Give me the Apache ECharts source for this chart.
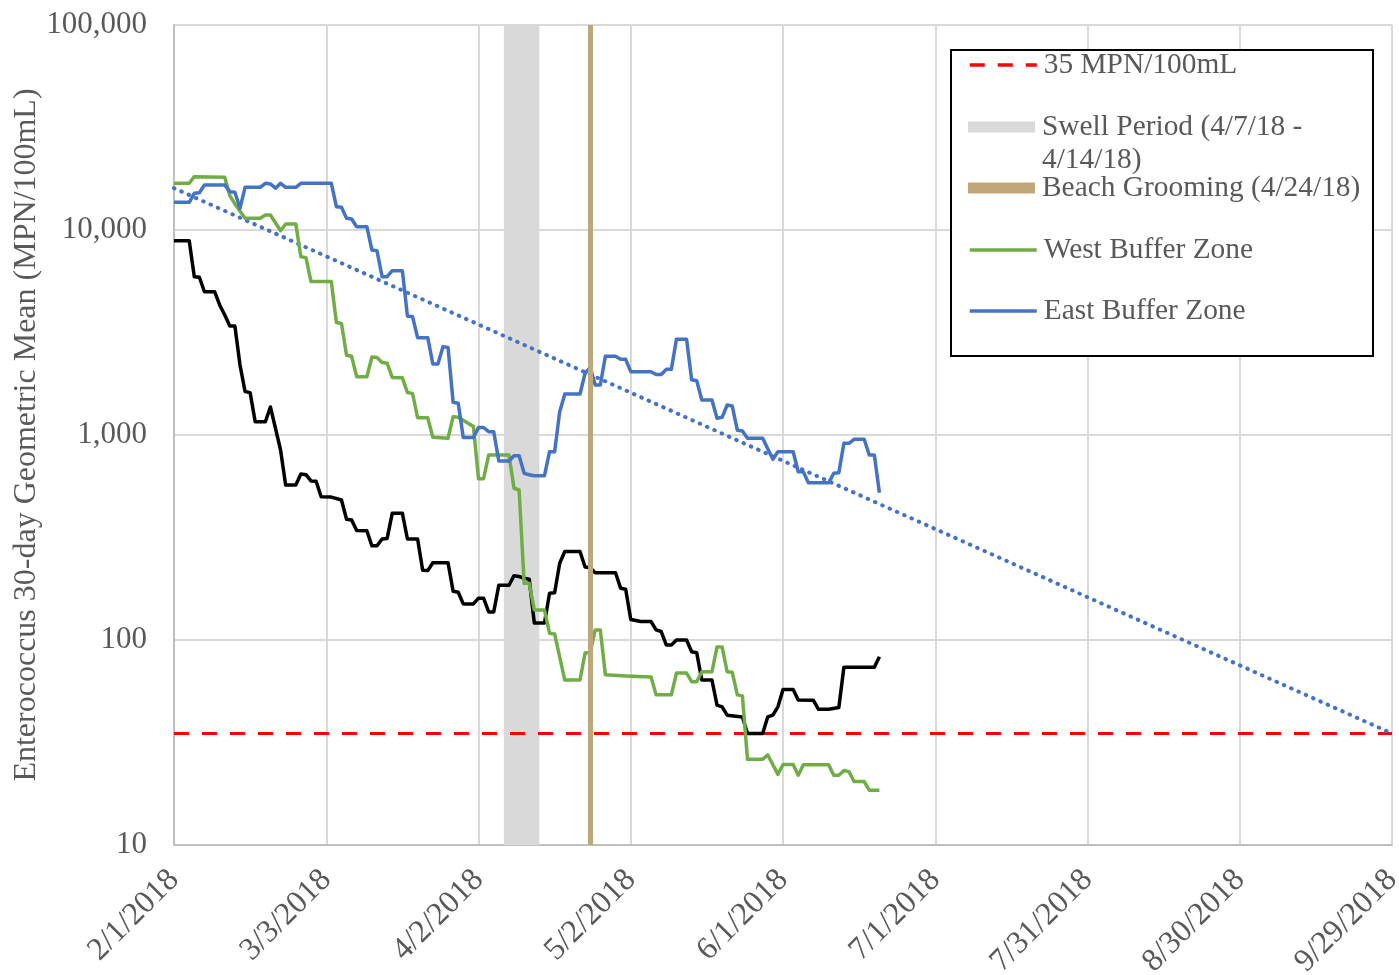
<!DOCTYPE html>
<html>
<head>
<meta charset="utf-8">
<script src="https://cdn.jsdelivr.net/npm/echarts@6/dist/echarts.min.js"></script>
<style>
  html, body { margin: 0; padding: 0; background: #fff; }
  #chart { width: 1399px; height: 975px; }
</style>
</head>
<body>
<div id="chart"></div>
<script>
// axis range and tick labels
const startDate = '2018-02-01'
const endDate = '2018-09-29'
const xTickLabels = ['2/1/2018', '3/3/2018', '4/2/2018', '5/2/2018', '6/1/2018', '7/1/2018', '7/31/2018', '8/30/2018', '9/29/2018']
const yTickLabels = ['10', '100', '1,000', '10,000', '100,000']

// events
const thresholdValue = 35
const swellPeriod = ['2018-04-07', '2018-04-14']
const groomingDate = '2018-04-24'

// 30-day geometric means, [date, MPN/100mL]
const mainZone = [
  ['2018-02-01', 8870], ['2018-02-04', 8870], ['2018-02-05', 5920], ['2018-02-06', 5880], ['2018-02-07', 5000],
  ['2018-02-09', 5000], ['2018-02-10', 4310], ['2018-02-11', 3850], ['2018-02-12', 3400], ['2018-02-13', 3400],
  ['2018-02-14', 2200], ['2018-02-15', 1630], ['2018-02-16', 1610], ['2018-02-17', 1160], ['2018-02-19', 1160],
  ['2018-02-20', 1370], ['2018-02-22', 845], ['2018-02-23', 570], ['2018-02-25', 570], ['2018-02-26', 645],
  ['2018-02-27', 640], ['2018-02-28', 597], ['2018-03-01', 595], ['2018-03-02', 500], ['2018-03-04', 498],
  ['2018-03-06', 482], ['2018-03-07', 388], ['2018-03-08', 385], ['2018-03-09', 342], ['2018-03-11', 341],
  ['2018-03-12', 288], ['2018-03-13', 288], ['2018-03-14', 311], ['2018-03-15', 313], ['2018-03-16', 415],
  ['2018-03-18', 415], ['2018-03-19', 311], ['2018-03-21', 311], ['2018-03-22', 219], ['2018-03-23', 218],
  ['2018-03-24', 238], ['2018-03-27', 238], ['2018-03-28', 173], ['2018-03-29', 171], ['2018-03-30', 150],
  ['2018-04-01', 150], ['2018-04-02', 160], ['2018-04-03', 160], ['2018-04-04', 137], ['2018-04-05', 137],
  ['2018-04-06', 185], ['2018-04-08', 185], ['2018-04-09', 206], ['2018-04-10', 204], ['2018-04-11', 200],
  ['2018-04-12', 198], ['2018-04-13', 121], ['2018-04-15', 121], ['2018-04-16', 169], ['2018-04-17', 170],
  ['2018-04-18', 237], ['2018-04-19', 270], ['2018-04-22', 270], ['2018-04-23', 227], ['2018-04-24', 225],
  ['2018-04-25', 213], ['2018-04-29', 213], ['2018-04-30', 179], ['2018-05-01', 177], ['2018-05-02', 126],
  ['2018-05-04', 123], ['2018-05-06', 123], ['2018-05-07', 112], ['2018-05-08', 110], ['2018-05-09', 94.6],
  ['2018-05-10', 94.6], ['2018-05-11', 100], ['2018-05-13', 100], ['2018-05-14', 87.6], ['2018-05-15', 86.6],
  ['2018-05-16', 63.8], ['2018-05-18', 63.8], ['2018-05-19', 48.1], ['2018-05-20', 47.2], ['2018-05-21', 43],
  ['2018-05-24', 42.1], ['2018-05-25', 35], ['2018-05-28', 35], ['2018-05-29', 42.2], ['2018-05-30', 43],
  ['2018-05-31', 47.2], ['2018-06-01', 57.4], ['2018-06-03', 57.4], ['2018-06-04', 51], ['2018-06-07', 50.8],
  ['2018-06-08', 45.9], ['2018-06-10', 45.9], ['2018-06-12', 46.9], ['2018-06-13', 73.6], ['2018-06-19', 73.6],
  ['2018-06-20', 82.9]
]

const westBuffer = [
  ['2018-02-01', 16900], ['2018-02-04', 16900], ['2018-02-05', 18200], ['2018-02-11', 18100], ['2018-02-12', 14700],
  ['2018-02-13', 13400], ['2018-02-15', 11400], ['2018-02-18', 11400], ['2018-02-19', 11830], ['2018-02-20', 11830],
  ['2018-02-22', 9920], ['2018-02-23', 10690], ['2018-02-25', 10690], ['2018-02-26', 7410], ['2018-02-27', 7330],
  ['2018-02-28', 5600], ['2018-03-04', 5600], ['2018-03-05', 3540], ['2018-03-06', 3500], ['2018-03-07', 2450],
  ['2018-03-08', 2420], ['2018-03-09', 1925], ['2018-03-11', 1925], ['2018-03-12', 2400], ['2018-03-13', 2390],
  ['2018-03-14', 2260], ['2018-03-15', 2240], ['2018-03-16', 1910], ['2018-03-18', 1900], ['2018-03-19', 1610],
  ['2018-03-20', 1595], ['2018-03-21', 1214], ['2018-03-23', 1214], ['2018-03-24', 975], ['2018-03-27', 964],
  ['2018-03-28', 1228], ['2018-03-29', 1220], ['2018-04-01', 1100], ['2018-04-02', 612], ['2018-04-03', 612],
  ['2018-04-04', 798], ['2018-04-08', 798], ['2018-04-09', 550], ['2018-04-10', 539], ['2018-04-11', 189],
  ['2018-04-12', 189], ['2018-04-13', 140], ['2018-04-15', 140], ['2018-04-16', 108], ['2018-04-17', 107],
  ['2018-04-19', 63.8], ['2018-04-22', 63.8], ['2018-04-23', 86.4], ['2018-04-24', 87], ['2018-04-25', 112],
  ['2018-04-26', 112], ['2018-04-27', 67.6], ['2018-05-01', 66.7], ['2018-05-06', 66], ['2018-05-07', 54],
  ['2018-05-10', 54], ['2018-05-11', 69], ['2018-05-13', 69], ['2018-05-14', 62.6], ['2018-05-15', 62.6],
  ['2018-05-16', 70], ['2018-05-18', 70], ['2018-05-19', 92.5], ['2018-05-20', 92.5], ['2018-05-21', 70],
  ['2018-05-22', 69.6], ['2018-05-23', 54], ['2018-05-24', 53.4], ['2018-05-25', 26.2], ['2018-05-28', 26.2],
  ['2018-05-29', 27.5], ['2018-05-31', 22.1], ['2018-06-01', 24.7], ['2018-06-03', 24.7], ['2018-06-04', 21.9],
  ['2018-06-05', 24.6], ['2018-06-10', 24.6], ['2018-06-11', 21.9], ['2018-06-12', 21.9], ['2018-06-13', 23.1],
  ['2018-06-14', 22.8], ['2018-06-15', 20.4], ['2018-06-17', 20.4], ['2018-06-18', 18.5], ['2018-06-20', 18.5]
]

const eastBuffer = [
  ['2018-02-01', 13650], ['2018-02-04', 13650], ['2018-02-05', 15100], ['2018-02-06', 15200], ['2018-02-07', 16580],
  ['2018-02-11', 16580], ['2018-02-12', 15380], ['2018-02-13', 15280], ['2018-02-14', 12760], ['2018-02-15', 16150],
  ['2018-02-18', 16150], ['2018-02-19', 16900], ['2018-02-20', 16770], ['2018-02-21', 16000], ['2018-02-22', 16900],
  ['2018-02-23', 16150], ['2018-02-25', 16150], ['2018-02-26', 16900], ['2018-03-04', 16900], ['2018-03-05', 13000],
  ['2018-03-06', 12900], ['2018-03-07', 11400], ['2018-03-08', 11320], ['2018-03-09', 10380], ['2018-03-11', 10380],
  ['2018-03-12', 7980], ['2018-03-13', 7920], ['2018-03-14', 5920], ['2018-03-15', 5920], ['2018-03-16', 6330],
  ['2018-03-18', 6330], ['2018-03-19', 3800], ['2018-03-20', 3780], ['2018-03-21', 2985], ['2018-03-23', 2985],
  ['2018-03-24', 2220], ['2018-03-25', 2220], ['2018-03-26', 2697], ['2018-03-27', 2676], ['2018-03-28', 1445],
  ['2018-03-29', 1430], ['2018-03-30', 972], ['2018-04-01', 972], ['2018-04-02', 1088], ['2018-04-03', 1088],
  ['2018-04-04', 1038], ['2018-04-05', 1038], ['2018-04-06', 747], ['2018-04-08', 747], ['2018-04-09', 792],
  ['2018-04-10', 792], ['2018-04-11', 650], ['2018-04-12', 640], ['2018-04-13', 633], ['2018-04-15', 633],
  ['2018-04-16', 829], ['2018-04-17', 829], ['2018-04-18', 1300], ['2018-04-19', 1585], ['2018-04-22', 1585],
  ['2018-04-23', 2000], ['2018-04-24', 2140], ['2018-04-25', 1754], ['2018-04-26', 1754], ['2018-04-27', 2420],
  ['2018-04-29', 2420], ['2018-04-30', 2340], ['2018-05-01', 2340], ['2018-05-02', 2036], ['2018-05-06', 2036],
  ['2018-05-07', 1973], ['2018-05-08', 1973], ['2018-05-09', 2090], ['2018-05-10', 2090], ['2018-05-11', 2930],
  ['2018-05-13', 2930], ['2018-05-14', 1860], ['2018-05-15', 1840], ['2018-05-16', 1482], ['2018-05-18', 1482],
  ['2018-05-19', 1206], ['2018-05-20', 1220], ['2018-05-21', 1400], ['2018-05-22', 1385], ['2018-05-23', 1055],
  ['2018-05-24', 1046], ['2018-05-25', 964], ['2018-05-28', 964], ['2018-05-30', 761], ['2018-05-31', 829],
  ['2018-06-03', 829], ['2018-06-04', 662], ['2018-06-05', 662], ['2018-06-06', 585], ['2018-06-10', 585],
  ['2018-06-11', 650], ['2018-06-12', 655], ['2018-06-13', 911], ['2018-06-14', 911], ['2018-06-15', 953],
  ['2018-06-17', 953], ['2018-06-18', 798], ['2018-06-19', 798], ['2018-06-20', 523]
]

// exponential trend of the east buffer zone (straight on the log axis)
const eastTrend = [['2018-02-01', 16000], ['2018-09-29', 35]]

const names = {
  threshold: '35 MPN/100mL',
  swell: 'Swell Period (4/7/18 - 4/14/18)',
  grooming: 'Beach Grooming (4/24/18)',
  west: 'West Buffer Zone',
  east: 'East Buffer Zone'
}

const FONT = 'Liberation Serif'
const TEXT = '#595959'
const DAY = 86400000
const LINE_H = 33

// days since the start date, so 30-day ticks line up with min
const dayOf = s => (Date.parse(s) - Date.parse(startDate)) / DAY
const toXY = pts => pts.map(([d, v]) => [dayOf(d), v])

const chart = echarts.init(document.getElementById('chart'))

const lineSeries = (name, pts, color, extra) => Object.assign({
  name: name,
  type: 'line',
  data: toXY(pts),
  symbol: 'none',
  z: 3,
  itemStyle: { color: color },
  lineStyle: { color: color, width: 3.5, join: 'round' }
}, extra || {})

// one legend per row so the two-line swell entry keeps the even spacing
const legendRows = [
  { name: names.threshold, center: 65 },
  { name: names.swell, center: 127, icon: 'rect', color: '#d9d9d9', twoLines: true },
  { name: names.grooming, center: 188, icon: 'rect', color: '#c0a77a' },
  { name: names.west, center: 250 },
  { name: names.east, center: 311 }
]

// the swell label gets an empty first line, so its first real line sits on the icon
const legends = legendRows.map(r => ({
  orient: 'vertical',
  left: 968,
  top: r.twoLines ? r.center - LINE_H * 1.5 : r.center - LINE_H / 2,
  padding: 0,
  itemWidth: 67,
  itemHeight: 11,
  z: 5,
  lineStyle: { width: 3.5 },
  textStyle: { fontFamily: FONT, fontSize: 29.4, color: TEXT, lineHeight: LINE_H, padding: [0, 0, 0, 2] },
  formatter: n => n === names.swell ? '\nSwell Period (4/7/18 -\n4/14/18)' : n,
  data: [r.icon
    ? { name: r.name, icon: r.icon, itemStyle: { color: r.color } }
    : { name: r.name, itemStyle: { opacity: 0 } }]
}))

const option = {
  animation: false,
  backgroundColor: '#fff',
  grid: { left: 174, right: 7, top: 25, bottom: 130, containLabel: false, outerBoundsMode: 'none' },
  xAxis: {
    type: 'value',
    min: 0,
    max: dayOf(endDate),
    interval: 30,
    axisLine: { show: true, lineStyle: { color: '#bfbfbf', width: 2 } },
    axisTick: { show: false },
    splitLine: { show: true, lineStyle: { color: '#d9d9d9', width: 2 } },
    axisLabel: {
      rotate: 45,
      margin: 30,
      fontFamily: FONT,
      fontSize: 32,
      color: TEXT,
      formatter: v => xTickLabels[Math.round(v / 30)]
    }
  },
  yAxis: {
    type: 'log',
    logBase: 10,
    min: 10,
    max: 100000,
    name: 'Enterococcus 30-day Geometric Mean (MPN/100mL)',
    nameLocation: 'middle',
    nameGap: 131,
    nameMoveOverlap: false,
    nameTextStyle: { fontFamily: FONT, fontSize: 32, color: TEXT },
    axisLine: { show: true, lineStyle: { color: '#bfbfbf', width: 2 } },
    axisTick: { show: false },
    splitLine: { show: true, lineStyle: { color: '#d9d9d9', width: 2 } },
    axisLabel: {
      margin: 27,
      fontFamily: FONT,
      fontSize: 31,
      color: TEXT,
      formatter: v => yTickLabels[Math.round(Math.log10(v)) - 1]
    }
  },
  legend: legends,
  graphic: [{
    type: 'rect',
    z: 4,
    shape: { x: 951, y: 50, width: 422, height: 306 },
    style: { fill: '#fff', stroke: '#000', lineWidth: 2 }
  }],
  series: [
    {
      name: names.swell,
      type: 'line',
      data: [],
      z: 1,
      itemStyle: { color: '#d9d9d9' },
      markArea: {
        silent: true,
        itemStyle: { color: '#d9d9d9', opacity: 1 },
        data: [[{ xAxis: dayOf(swellPeriod[0]) }, { xAxis: dayOf(swellPeriod[1]) }]]
      }
    },
    {
      name: names.grooming,
      type: 'line',
      data: [],
      z: 1,
      itemStyle: { color: '#c0a77a' },
      markLine: {
        silent: true,
        symbol: ['none', 'none'],
        label: { show: false },
        lineStyle: { color: '#c0a77a', width: 5, type: 'solid' },
        data: [{ xAxis: dayOf(groomingDate) }]
      }
    },
    lineSeries(names.threshold, [[startDate, thresholdValue], [endDate, thresholdValue]], '#ff0000', {
      z: 2,
      lineStyle: { color: '#ff0000', width: 3, type: [15, 13] }
    }),
    lineSeries('East Buffer Zone trend', eastTrend, '#4472c4', {
      z: 2,
      lineStyle: { color: '#4472c4', width: 4, type: [0.5, 7.5], cap: 'round' }
    }),
    lineSeries('Main Zone', mainZone, '#000000'),
    lineSeries(names.west, westBuffer, '#70ad47'),
    lineSeries(names.east, eastBuffer, '#4472c4')
  ]
}

chart.setOption(option)
</script>
</body>
</html>
